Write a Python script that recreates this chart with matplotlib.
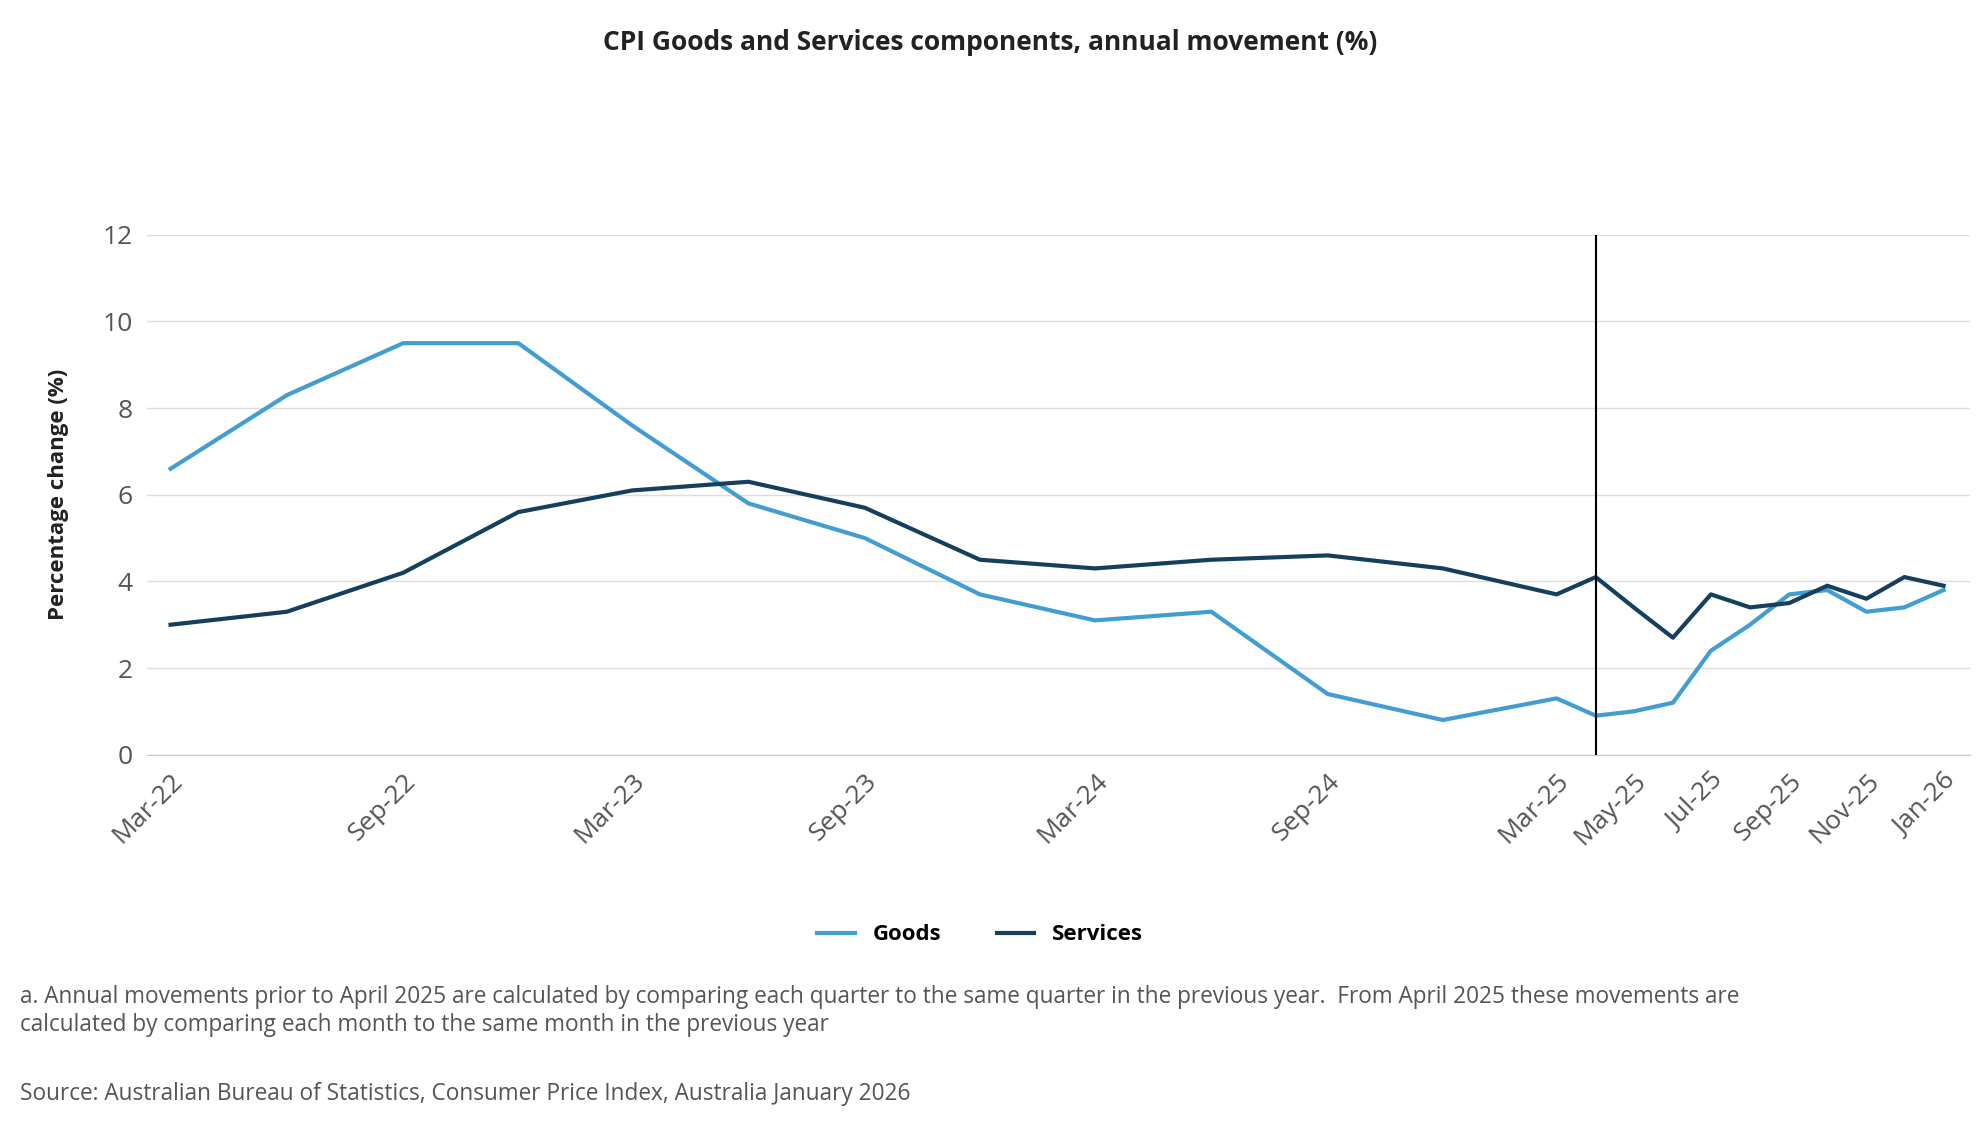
import pandas as pd
import matplotlib.pyplot as plt

plt.rcParams["font.family"] = ["Open Sans", "DejaVu Sans"]

# data
dates = pd.to_datetime(
    ["2022-03", "2022-06", "2022-09", "2022-12", "2023-03", "2023-06", "2023-09",
     "2023-12", "2024-03", "2024-06", "2024-09", "2024-12", "2025-03",
     "2025-04", "2025-05", "2025-06", "2025-07", "2025-08", "2025-09",
     "2025-10", "2025-11", "2025-12", "2026-01"]
)
goods = [6.6, 8.3, 9.5, 9.5, 7.6, 5.8, 5.0, 3.7, 3.1, 3.3, 1.4, 0.8, 1.3,
         0.9, 1.0, 1.2, 2.4, 3.0, 3.7, 3.8, 3.3, 3.4, 3.8]
services = [3.0, 3.3, 4.2, 5.6, 6.1, 6.3, 5.7, 4.5, 4.3, 4.5, 4.6, 4.3, 3.7,
            4.1, 3.4, 2.7, 3.7, 3.4, 3.5, 3.9, 3.6, 4.1, 3.9]
tick_labels = ["Mar-22", "Sep-22", "Mar-23", "Sep-23", "Mar-24", "Sep-24",
               "Mar-25", "May-25", "Jul-25", "Sep-25", "Nov-25", "Jan-26"]
tick_dates = pd.to_datetime(["2022-03", "2022-09", "2023-03", "2023-09", "2024-03",
                             "2024-09", "2025-03", "2025-05", "2025-07", "2025-09",
                             "2025-11", "2026-01"])

fig = plt.figure(figsize=(19.8, 11.4), dpi=100)
ax = fig.add_axes([0.074, 0.338, 0.921, 0.456])

ax.plot(dates, goods, color="#429dd0", lw=3, label="Goods")
ax.plot(dates, services, color="#14405e", lw=3, label="Services")
ax.axvline(pd.Timestamp("2025-04"), color="black", lw=1.5)

ax.set_ylim(0, 12)
ax.set_yticks(range(0, 13, 2))
ax.set_xlim(pd.Timestamp("2022-02-10"), pd.Timestamp("2026-01-22"))
ax.set_xticks(tick_dates)
ax.set_xticklabels(tick_labels, rotation=45, ha="right", rotation_mode="anchor")
ax.tick_params(axis="both", labelsize=19, colors="#555555", length=0, pad=10)
ax.grid(axis="y", color="#dddddd", lw=1)
for s in ["top", "right", "left"]:
    ax.spines[s].set_visible(False)
ax.spines["bottom"].set_color("#b8c8d8")
ax.set_ylabel("Percentage change (%)", fontsize=16, fontweight="bold",
              color="#222222", labelpad=24)

fig.suptitle("CPI Goods and Services components, annual movement (%)",
             y=0.975, fontsize=19, fontweight="bold", color="#222222")
fig.legend(loc="center", bbox_to_anchor=(0.495, 0.18), ncol=2, frameon=False,
           handlelength=1.7, columnspacing=2.5,
           prop={"weight": "bold", "size": 16})

fig.text(0.01, 0.09,
         "a. Annual movements prior to April 2025 are calculated by comparing each quarter to the same quarter in the previous year.  From April 2025 these movements are\ncalculated by comparing each month to the same month in the previous year",
         fontsize=16.3, color="#555555", va="bottom", linespacing=1.25)
fig.text(0.01, 0.03, "Source: Australian Bureau of Statistics, Consumer Price Index, Australia January 2026",
         fontsize=16.3, color="#555555", va="bottom")

fig.savefig("out.png", dpi=100)
